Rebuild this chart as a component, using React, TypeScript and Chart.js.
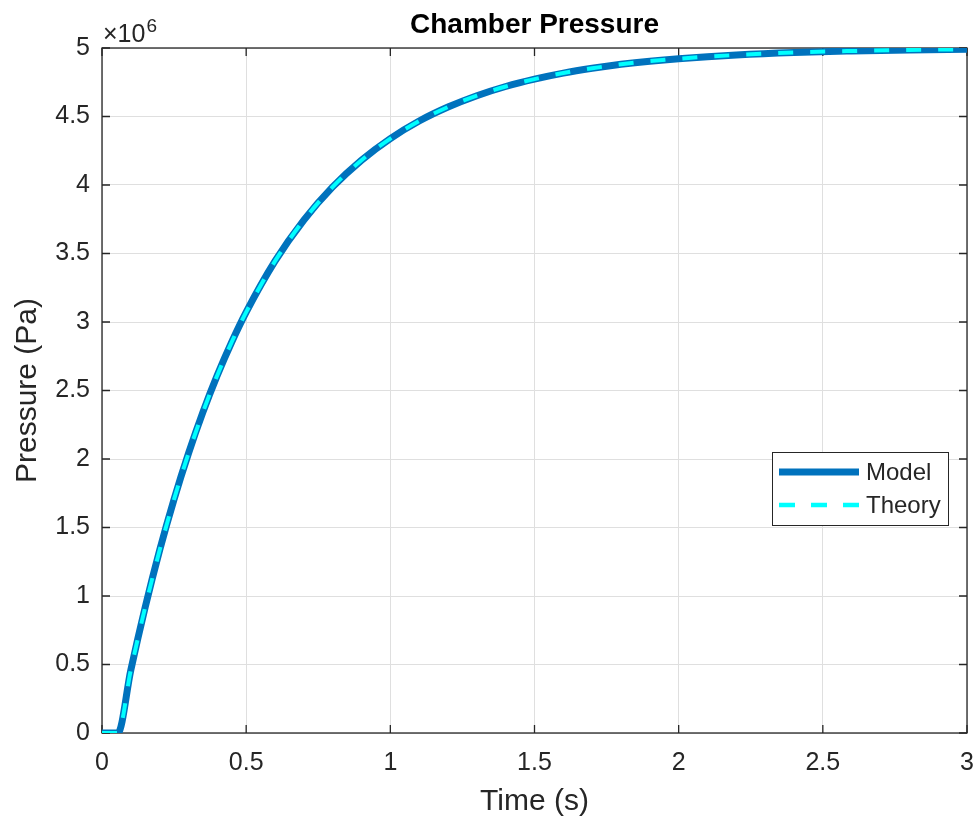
import React, { useEffect, useRef } from "react";
import { Chart, registerables } from "chart.js";

Chart.register(...registerables);

const FONT = "'Liberation Sans', Arial, Helvetica, sans-serif";
const AXIS_COLOR = "#262626";
const GRID_COLOR = "#dfdfdf";

const titleText = "Chamber Pressure";
const xLabel = "Time (s)";
const yLabel = "Pressure (Pa)";
const yExponent = "6";

const seriesLabels = ["Model", "Theory"];
const seriesColors = ["#0072BD", "#00FFFF"];

const timeS = [
  0, 0.055, 0.1, 0.15, 0.2, 0.25, 0.3, 0.35, 0.4, 0.45, 0.5, 0.6, 0.7, 0.8, 0.9,
  1.0, 1.1, 1.2, 1.3, 1.4, 1.5, 1.6, 1.7, 1.8, 1.9, 2.0, 2.2, 2.4, 2.6, 2.8, 3.0,
];

const modelPa = [
  0, 0, 0.46e6, 0.92e6, 1.335e6, 1.707e6, 2.041e6, 2.342e6, 2.612e6, 2.854e6,
  3.072e6, 3.444e6, 3.744e6, 3.986e6, 4.181e6, 4.339e6, 4.467e6, 4.569e6,
  4.652e6, 4.719e6, 4.773e6, 4.817e6, 4.852e6, 4.881e6, 4.904e6, 4.922e6,
  4.949e6, 4.967e6, 4.978e6, 4.986e6, 4.991e6,
];

const theoryPa = [
  0, 0, 0.46e6, 0.92e6, 1.335e6, 1.707e6, 2.041e6, 2.342e6, 2.612e6, 2.854e6,
  3.072e6, 3.444e6, 3.744e6, 3.986e6, 4.181e6, 4.339e6, 4.467e6, 4.569e6,
  4.652e6, 4.719e6, 4.773e6, 4.817e6, 4.852e6, 4.881e6, 4.904e6, 4.922e6,
  4.949e6, 4.967e6, 4.978e6, 4.986e6, 4.991e6,
];

const xTicks = [0, 0.5, 1, 1.5, 2, 2.5, 3];
const yTicks = [0, 0.5e6, 1e6, 1.5e6, 2e6, 2.5e6, 3e6, 3.5e6, 4e6, 4.5e6, 5e6];

const framePlugin = {
  id: "matlabFrame",
  beforeDatasetsDraw(chart: any) {
    const { ctx, chartArea, scales } = chart;
    const { left, right, top, bottom } = chartArea;
    const x = scales.x;
    const y = scales.y;
    ctx.save();
    ctx.strokeStyle = AXIS_COLOR;
    ctx.lineWidth = 1.3;
    ctx.beginPath();
    x.ticks.forEach((t: any) => {
      const px = x.getPixelForValue(t.value);
      ctx.moveTo(px, bottom);
      ctx.lineTo(px, bottom - 8);
      ctx.moveTo(px, top);
      ctx.lineTo(px, top + 8);
    });
    y.ticks.forEach((t: any) => {
      const py = y.getPixelForValue(t.value);
      ctx.moveTo(left, py);
      ctx.lineTo(left + 8, py);
      ctx.moveTo(right, py);
      ctx.lineTo(right - 8, py);
    });
    ctx.stroke();
    ctx.strokeRect(left, top, right - left, bottom - top);
    ctx.restore();
  },
  afterDraw(chart: any) {
    const { ctx, chartArea } = chart;
    const { left, right, top } = chartArea;
    ctx.save();
    // title centred over the plot area
    ctx.fillStyle = "#000000";
    ctx.font = `bold 28px ${FONT}`;
    ctx.textAlign = "center";
    ctx.textBaseline = "middle";
    ctx.fillText(titleText, (left + right) / 2, 25);

    // exponent label
    ctx.fillStyle = AXIS_COLOR;
    ctx.textBaseline = "alphabetic";
    ctx.textAlign = "left";
    ctx.font = `25px ${FONT}`;
    const base = "\u00d710";
    ctx.fillText(base, left + 1, top - 6);
    const w = ctx.measureText(base).width;
    ctx.font = `19px ${FONT}`;
    ctx.fillText(yExponent, left + 1 + w + 1, top - 16);

    // legend
    const bx = 772, by = 452, bw = 176, bh = 73;
    ctx.fillStyle = "#ffffff";
    ctx.fillRect(bx, by, bw, bh);
    ctx.strokeStyle = AXIS_COLOR;
    ctx.lineWidth = 1;
    ctx.strokeRect(bx + 0.5, by + 0.5, bw, bh);
    const rows = [
      { label: chart.data.datasets[0].label, color: chart.data.datasets[0].borderColor, width: 7, dash: [] as number[], y: 472 },
      { label: chart.data.datasets[1].label, color: chart.data.datasets[1].borderColor, width: 4.5, dash: [16, 16], y: 505 },
    ];
    rows.forEach((r) => {
      ctx.beginPath();
      ctx.setLineDash(r.dash);
      ctx.strokeStyle = r.color;
      ctx.lineWidth = r.width;
      ctx.moveTo(779, r.y);
      ctx.lineTo(859, r.y);
      ctx.stroke();
      ctx.setLineDash([]);
      ctx.fillStyle = AXIS_COLOR;
      ctx.font = `24px ${FONT}`;
      ctx.textBaseline = "middle";
      ctx.textAlign = "left";
      ctx.fillText(r.label, 866, r.y + 1);
    });
    ctx.restore();
  },
};

export default function App() {
  const canvasRef = useRef<HTMLCanvasElement | null>(null);

  useEffect(() => {
    if (!canvasRef.current) return;
    const chart = new Chart(canvasRef.current, {
      type: "line",
      data: {
        datasets: [
          {
            label: seriesLabels[0],
            data: timeS.map((t, i) => ({ x: t, y: modelPa[i] })),
            borderColor: seriesColors[0],
            borderWidth: 7,
            pointRadius: 0,
            cubicInterpolationMode: "monotone",
            order: 2,
          },
          {
            label: seriesLabels[1],
            data: timeS.map((t, i) => ({ x: t, y: theoryPa[i] })),
            borderColor: seriesColors[1],
            borderWidth: 4,
            borderDash: [15, 17],
            pointRadius: 0,
            cubicInterpolationMode: "monotone",
            order: 1,
          },
        ],
      },
      options: {
        animation: false,
        responsive: false,
        maintainAspectRatio: false,
        layout: { padding: { top: 48, right: 13, bottom: 0, left: 0 } },
        plugins: {
          legend: { display: false },
          tooltip: { enabled: false },
          title: { display: false },
        },
        scales: {
          x: {
            type: "linear",
            min: 0,
            max: 3,
            afterBuildTicks: (s: any) => {
              s.ticks = xTicks.map((v) => ({ value: v }));
            },
            afterFit: (s: any) => {
              s.height = 92;
              s.paddingLeft = 0;
              s.paddingRight = 0;
            },
            grid: { color: GRID_COLOR, drawTicks: false, lineWidth: 1 },
            border: { display: false },
            ticks: {
              color: AXIS_COLOR,
              font: { family: FONT, size: 25, lineHeight: 1.2 },
              padding: 15,
              maxRotation: 0,
              callback: (v: any) => String(v),
            },
            title: {
              display: true,
              text: xLabel,
              color: AXIS_COLOR,
              font: { family: FONT, size: 30, lineHeight: 1.2 },
              padding: { top: 5, bottom: 5 },
            },
          },
          y: {
            type: "linear",
            min: 0,
            max: 5e6,
            afterBuildTicks: (s: any) => {
              s.ticks = yTicks.map((v) => ({ value: v }));
            },
            afterFit: (s: any) => {
              s.width = 102;
              s.paddingTop = 0;
              s.paddingBottom = 0;
            },
            grid: { color: GRID_COLOR, drawTicks: false, lineWidth: 1 },
            border: { display: false },
            ticks: {
              color: AXIS_COLOR,
              font: { family: FONT, size: 25, lineHeight: 1.2 },
              padding: 12,
              callback: (v: any) => String(Number(v) / 1e6),
            },
            title: {
              display: true,
              text: yLabel,
              color: AXIS_COLOR,
              font: { family: FONT, size: 30, lineHeight: 1.2 },
              padding: { top: 10, bottom: 10 },
            },
          },
        },
      } as any,
      plugins: [framePlugin],
    });
    return () => chart.destroy();
  }, []);

  return (
    <div style={{ position: "absolute", left: 0, top: 0, width: 980, height: 825, background: "#ffffff" }}>
      <canvas ref={canvasRef} width={980} height={825} style={{ display: "block" }} />
    </div>
  );
}
